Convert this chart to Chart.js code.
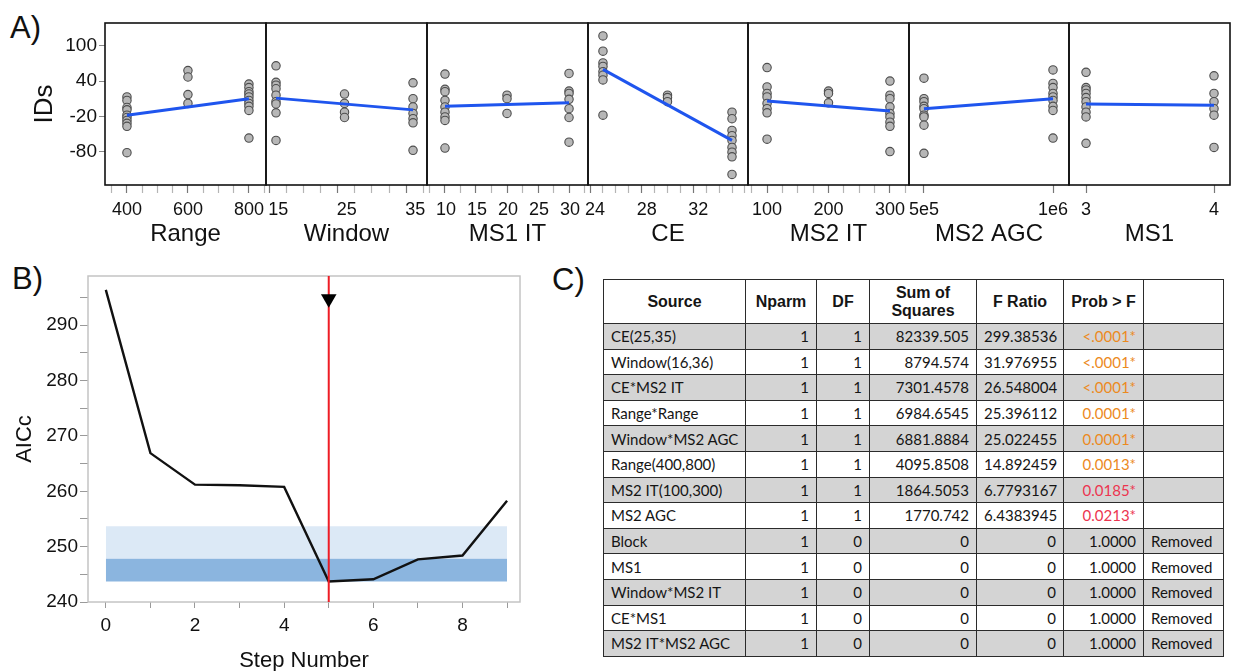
<!DOCTYPE html>
<html>
<head>
<meta charset="utf-8">
<script src="https://cdn.jsdelivr.net/npm/chart.js@4.4.1/dist/chart.umd.min.js"></script>
<style>
  html, body { margin: 0; padding: 0; background: #fff; }
  body { width: 1235px; height: 671px; position: relative; overflow: hidden; font-family: 'Liberation Sans', Arial, sans-serif; }
  canvas { position: absolute; }
  .tag { position: absolute; font-size: 31px; color: #111; line-height: 1; }
  #anova { position: absolute; left: 603px; top: 279px; width: 620px; border-collapse: collapse; table-layout: fixed;
           font-family: Lato, 'Open Sans', sans-serif; font-size: 15px; color: #151515; }
  #anova th, #anova td { border: 1.5px solid #2b2b2b; padding: 0 7px; height: 24.6px; white-space: nowrap; overflow: hidden; }
  #anova th { font-family: 'Liberation Sans', Arial, sans-serif; font-weight: bold; font-size: 16px; height: 43px; text-align: center; line-height: 1.12; background: #fff; }
  #anova td.num { text-align: right; }
  #anova tr.shade td { background: #d4d4d4; }
</style>
</head>
<body>
<div class="tag" style="left:10px; top:12px;">A)</div>
<div class="tag" style="left:12px; top:263px;">B)</div>
<div class="tag" style="left:552px; top:264px;">C)</div>
<table id="anova"></table>

<script>
// ---- A) main effects: IDs at each factor level ----
const factorNames = ['Range', 'Window', 'MS1 IT', 'CE', 'MS2 IT', 'MS2 AGC', 'MS1'];
const factorLevels = [[400, 600, 800], [16, 26, 36], [10, 20, 30], [25, 30, 35], [100, 200, 300], [5e5, 1e6], [3, 4]];

const rangeIDs  = [[13, 7, -5, -9, -18, -22, -27, -32, -37, -82], [58, 47, 17, 2], [35, 29, 22, 18, 13, 7, 2, -3, -10, -57]];
const windowIDs = [[66, 38, 33, 27, 16, 5, 1, -14, -61], [18, 2, -13, -22], [37, 10, -4, -15, -24, -31, -78]];
const ms1itIDs  = [[52, 26, 22, 7, -4, -13, -21, -27, -74], [16, 10, -15], [53, 23, 19, 9, -7, -22, -64]];
const ceIDs     = [[117, 91, 71, 65, 56, 50, 42, -18], [16, 12, 5], [-13, -24, -44, -53, -61, -73, -81, -89, -119]];
const ms2itIDs  = [[63, 30, 19, 13, 2, -7, -14, -59], [23, 19, 3], [40, 16, 10, -4, -15, -21, -30, -37, -80]];
const ms2agcIDs = [[45, 10, 5, -3, -7, -18, -21, -35, -83], [59, 36, 29, 19, 13, 7, -3, -10, -57]];
const ms1IDs    = [[55, 29, 25, 19, 12, 5, -4, -13, -21, -66], [49, 19, 5, -7, -18, -73]];
const factorIDs = [rangeIDs, windowIDs, ms1itIDs, ceIDs, ms2itIDs, ms2agcIDs, ms1IDs];

// fitted line value at the lowest and highest level
const factorFit = [[-18, 10], [11, -9], [-3, 3], [60, -61], [6, -11], [-7, 10], [1, -1]];

const factorTicks = [[400, 600, 800], [15, 25, 35], [10, 15, 20, 25, 30], [24, 28, 32], [100, 200, 300], [5e5, 1e6], [3, 4]];
const factorTickLabels = [['400', '600', '800'], ['15', '25', '35'], ['10', '15', '20', '25', '30'], ['24', '28', '32'],
                          ['100', '200', '300'], ['5e5', '1e6'], ['3', '4']];
const factorMinorStep = [50, 2.5, 2.5, 1, 25, 0, 0];
const factorXRange = [[328, 856], [14.54, 38.04], [7.1, 33.06], [23.84, 36.24], [69, 331], [4.42e5, 1.062e6], [2.867, 4.125]];
const idTicks = [100, 40, -20, -80];
const idRange = [-137, 139];

// ---- B) stepwise AICc ----
const stepNumbers = [0, 1, 2, 3, 4, 5, 6, 7, 8, 9];
const aiccValues  = [296.4, 266.9, 261.2, 261.1, 260.8, 243.7, 244.1, 247.7, 248.4, 258.3];
const bandEdges   = [243.7, 247.8, 253.7]; // best, +4, +10 zone edges as drawn
const bestStep    = 5;
const markerAICc  = 294.8;
const stepTicks   = [0, 1, 2, 3, 4, 5, 6, 7, 8, 9];
const aiccTicks   = [240, 245, 250, 255, 260, 265, 270, 275, 280, 285, 290, 295];

// ---- C) effect table ----
const termSource = ['CE(25,35)', 'Window(16,36)', 'CE*MS2 IT', 'Range*Range', 'Window*MS2 AGC', 'Range(400,800)', 'MS2 IT(100,300)',
                    'MS2 AGC', 'Block', 'MS1', 'Window*MS2 IT', 'CE*MS1', 'MS2 IT*MS2 AGC'];
const termNparm = [1, 1, 1, 1, 1, 1, 1, 1, 1, 1, 1, 1, 1];
const termDF    = [1, 1, 1, 1, 1, 1, 1, 1, 0, 0, 0, 0, 0];
const termSS    = ['82339.505', '8794.574', '7301.4578', '6984.6545', '6881.8884', '4095.8508', '1864.5053', '1770.742', '0', '0', '0', '0', '0'];
const termF     = ['299.38536', '31.976955', '26.548004', '25.396112', '25.022455', '14.892459', '6.7793167', '6.4383945', '0', '0', '0', '0', '0'];
const termP     = ['<.0001*', '<.0001*', '<.0001*', '0.0001*', '0.0001*', '0.0013*', '0.0185*', '0.0213*', '1.0000', '1.0000', '1.0000', '1.0000', '1.0000'];
const termNote  = ['', '', '', '', '', '', '', '', 'Removed', 'Removed', 'Removed', 'Removed', 'Removed'];
const tableHead = ['Source', 'Nparm', 'DF', 'Sum of<br>Squares', 'F Ratio', 'Prob > F', ''];
const colWidths = [142, 71, 53, 107, 87, 80, 80];

Chart.defaults.font.family = "'Liberation Sans', Arial, sans-serif";
Chart.defaults.color = '#111';

const BLUE = '#1f55ee';
const DOT = '#b7b7b7';
const DOT_EDGE = '#4d4d4d';
const INK = '#111';
// nudges labels away from the panel edges the way the source does
const labelShift = [0, 9, 1, 5, 0, 0, 0];

// strokes a box round the plot area
const framePlugin = {
  id: 'frame',
  beforeDatasetsDraw(chart, args, opts) {
    const { ctx, chartArea: a } = chart;
    ctx.save();
    ctx.strokeStyle = opts.color;
    ctx.lineWidth = opts.width;
    ctx.strokeRect(a.left, a.top, a.right - a.left, a.bottom - a.top);
    ctx.restore();
  },
};

function makeCanvas(left, top, w, h) {
  const c = document.createElement('canvas');
  c.width = w; c.height = h;
  c.style.left = left + 'px'; c.style.top = top + 'px';
  c.style.width = w + 'px'; c.style.height = h + 'px';
  document.body.appendChild(c);
  return c;
}

// ===== A) one small panel per factor =====
const A_EDGES = [105, 266, 427, 588, 748, 909, 1069, 1230];
const A_TOP = 23, A_BOTTOM = 185, A_H = 260, PADX = 24;

function buildFactor(i) {
  const first = i === 0;
  const left = A_EDGES[i], right = A_EDGES[i + 1];
  const cx = first ? 0 : left - PADX;
  const canvas = makeCanvas(cx, 0, right + PADX - cx, A_H);

  const levels = factorLevels[i];
  const pts = levels.flatMap((lv, k) => factorIDs[i][k].map((y) => ({ x: lv, y })));
  const fit = [{ x: levels[0], y: factorFit[i][0] }, { x: levels[levels.length - 1], y: factorFit[i][1] }];

  const [xmin, xmax] = factorXRange[i];
  const step = factorMinorStep[i];
  const xt = step ? [] : factorTicks[i].slice();
  if (step) for (let v = Math.ceil(xmin / step) * step; v <= xmax; v += step) xt.push(+v.toFixed(4));
  const labelOf = (v) => {
    const k = factorTicks[i].indexOf(v);
    return k < 0 ? '' : factorTickLabels[i][k];
  };

  new Chart(canvas, {
    type: 'scatter',
    data: {
      datasets: [
        { type: 'line', data: fit, borderColor: BLUE, borderWidth: 3, pointRadius: 0, fill: false },
        { data: pts, backgroundColor: DOT, borderColor: DOT_EDGE, borderWidth: 1.1, pointRadius: 4.2 },
      ],
    },
    options: {
      responsive: false,
      animation: false,
      events: [],
      layout: { padding: { left: first ? 0 : PADX, right: PADX, top: A_TOP, bottom: 0 } },
      plugins: { legend: { display: false }, tooltip: { enabled: false }, frame: { color: INK, width: 1.6 } },
      scales: {
        x: {
          type: 'linear',
          min: xmin, max: xmax,
          afterFit: (s) => { s.height = A_H - A_BOTTOM; },
          afterBuildTicks: (s) => { s.ticks = xt.map((v) => ({ value: v })); },
          ticks: { callback: (v) => labelOf(v), font: { size: 18 }, color: INK, padding: 6, maxRotation: 0, autoSkip: false,
                   labelOffset: labelShift[i] },
          grid: { drawOnChartArea: false, tickLength: 8, tickWidth: 1.2,
                  tickColor: (ctx) => (labelOf(ctx.tick && ctx.tick.value) ? '#777' : '#b5b5b5') },
          border: { display: false },
          title: { display: true, text: factorNames[i], font: { size: 24 }, color: INK, padding: { top: 0, bottom: 11 } },
        },
        y: {
          display: first,
          min: idRange[0], max: idRange[1],
          afterFit: (s) => { s.width = first ? A_EDGES[0] : 0; },
          afterBuildTicks: (s) => { s.ticks = idTicks.map((v) => ({ value: v })); },
          ticks: { font: { size: 19 }, color: INK, padding: 2 },
          grid: { drawOnChartArea: false, tickLength: 6, tickColor: '#888' },
          border: { display: false },
          title: { display: true, text: 'IDs', font: { size: 26 }, color: INK, padding: { top: 29, bottom: 0 } },
        },
      },
    },
    plugins: [framePlugin],
  });
}
factorNames.forEach((n, i) => buildFactor(i));

// ===== B) AICc by step =====
function buildSteps() {
  const canvas = makeCanvas(0, 260, 560, 420);
  const xy = (xs, ys) => xs.map((x, k) => ({ x, y: ys[k] }));
  const span = (y) => [{ x: stepNumbers[0], y }, { x: stepNumbers[stepNumbers.length - 1], y }];
  const yMax = 298.9;

  new Chart(canvas, {
    type: 'scatter',
    data: {
      datasets: [
        { data: [{ x: bestStep, y: markerAICc }], pointStyle: 'triangle', rotation: 180, pointRadius: 9,
          backgroundColor: '#000', borderColor: '#000', borderWidth: 0 },
        { type: 'line', data: [{ x: bestStep, y: 240 }, { x: bestStep, y: yMax }], borderColor: '#ee1c25', borderWidth: 2, pointRadius: 0 },
        { type: 'line', data: xy(stepNumbers, aiccValues), borderColor: '#111', borderWidth: 2.4, pointRadius: 0, tension: 0 },
        { type: 'line', data: span(bandEdges[0]), borderWidth: 0, pointRadius: 0, fill: false },
        { type: 'line', data: span(bandEdges[1]), borderWidth: 0, pointRadius: 0, fill: 3, backgroundColor: '#8bb5df' },
        { type: 'line', data: span(bandEdges[2]), borderWidth: 0, pointRadius: 0, fill: 4, backgroundColor: '#dce9f6' },
      ],
    },
    options: {
      responsive: false,
      animation: false,
      events: [],
      layout: { padding: { left: 0, right: 40, top: 16, bottom: 0 } },
      plugins: { legend: { display: false }, tooltip: { enabled: false }, frame: { color: '#c4c4c4', width: 1.5 } },
      scales: {
        x: {
          type: 'linear', min: -0.4, max: 9.29,
          afterFit: (s) => { s.height = 420 - 342; },
          afterBuildTicks: (s) => { s.ticks = stepTicks.map((v) => ({ value: v })); },
          ticks: { callback: (v) => (v % 2 === 0 ? String(v) : ''), font: { size: 19 }, color: INK, padding: 6, maxRotation: 0, autoSkip: false },
          grid: { drawOnChartArea: false, tickLength: 6, tickColor: '#9a9a9a' },
          border: { display: false },
          title: { display: true, text: 'Step Number', font: { size: 22 }, color: INK, padding: { top: 0, bottom: 6 } },
        },
        y: {
          min: 240, max: yMax,
          afterFit: (s) => { s.width = 88; },
          afterBuildTicks: (s) => { s.ticks = aiccTicks.map((v) => ({ value: v })); },
          ticks: { callback: (v) => (v % 10 === 0 ? String(v) : ''), font: { size: 19 }, color: INK, padding: 2 },
          grid: { drawOnChartArea: false, tickLength: 8, tickColor: '#9a9a9a' },
          border: { display: false },
          title: { display: true, text: 'AICc', font: { size: 22 }, color: INK, padding: { top: 12, bottom: 0 } },
        },
      },
    },
    plugins: [framePlugin],
  });
}
buildSteps();

// ===== C) table =====
function buildTable() {
  const t = document.getElementById('anova');
  let html = '<colgroup>' + colWidths.map((w) => `<col style="width:${w}px">`).join('') + '</colgroup>';
  html += '<tr>' + tableHead.map((h) => `<th>${h}</th>`).join('') + '</tr>';
  termSource.forEach((src, k) => {
    const pColor = termP[k] === '1.0000' ? '#151515' : (termP[k] === '0.0185*' || termP[k] === '0.0213*') ? '#ec3550' : '#ec8a1e';
    html += `<tr class="${k % 2 === 0 ? 'shade' : ''}">`
      + `<td>${src.replace('<', '&lt;')}</td>`
      + `<td class="num">${termNparm[k]}</td>`
      + `<td class="num">${termDF[k]}</td>`
      + `<td class="num">${termSS[k]}</td>`
      + `<td class="num">${termF[k]}</td>`
      + `<td class="num" style="color:${pColor}">${termP[k].replace('<', '&lt;')}</td>`
      + `<td>${termNote[k]}</td></tr>`;
  });
  t.innerHTML = html;
}
buildTable();
</script>
</body>
</html>
